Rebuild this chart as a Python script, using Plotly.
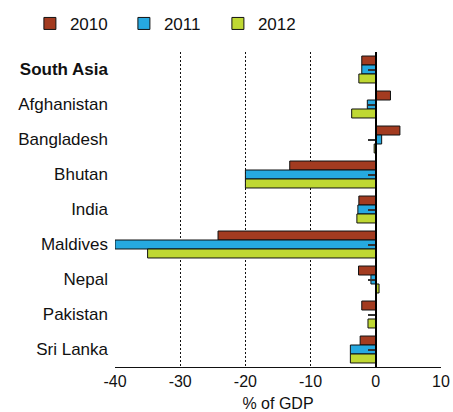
import plotly.graph_objects as go

countries = ["<b>South Asia</b>", "Afghanistan", "Bangladesh", "Bhutan", "India",
             "Maldives", "Nepal", "Pakistan", "Sri Lanka"]
years = ["2010", "2011", "2012"]
v2010 = [-2.15, 2.25, 3.7, -13.2, -2.6, -24.2, -2.65, -2.15, -2.4]
v2011 = [-2.15, -1.3, 0.9, -20.0, -2.75, -40.0, -0.75, 0.1, -3.9]
v2012 = [-2.6, -3.7, -0.25, -20.0, -2.9, -35.0, 0.5, -1.2, -3.9]
colors = ["#A33B20", "#26A9E0", "#BFD833"]
tick_vals = [-40, -30, -20, -10, 0, 10]

FONT = "Liberation Sans"
fig = go.Figure()
for name, vals, col in zip(years, [v2010, v2011, v2012], colors):
    fig.add_trace(go.Bar(
        x=vals, y=countries, orientation="h", name=name,
        marker=dict(color=col, line=dict(color="#111111", width=1)),
    ))

# invisible helper trace to give the zero-crossing axis its category ticks
fig.add_trace(go.Scatter(
    x=[0] * len(countries), y=countries, yaxis="y2", mode="markers",
    marker=dict(opacity=0), showlegend=False, hoverinfo="skip",
))

n = len(countries)
fig.update_layout(
    width=453, height=412,
    margin=dict(l=115, r=12, t=52, b=45, autoexpand=False),
    paper_bgcolor="white", plot_bgcolor="white",
    barmode="group", bargap=0.23, bargroupgap=0.0,
    font=dict(family=FONT, color="#111111", size=16),
    legend=dict(
        orientation="h", xref="container", yref="container",
        x=0.066, y=0.942, xanchor="left", yanchor="middle",
        font=dict(size=17, family=FONT), traceorder="normal",
        entrywidth=49, itemwidth=30,
    ),
    xaxis=dict(
        range=[-40, 10], tickvals=tick_vals, ticktext=[str(t) for t in tick_vals],
        showgrid=True, gridcolor="#111111", gridwidth=1, griddash="2px,2px",
        zeroline=False, showline=True, linecolor="#111111", linewidth=1,
        ticks="", tickfont=dict(size=16, family=FONT), automargin=False,
        title=dict(text="% of GDP", font=dict(size=16, family=FONT), standoff=14),
        domain=[0, 1],
    ),
    yaxis=dict(
        type="category", range=[n - 0.5, -0.5], showgrid=False, zeroline=False,
        showline=False, ticks="", tickfont=dict(size=17, family=FONT),
        ticklabelstandoff=6, automargin=False,
    ),
    yaxis2=dict(
        type="category", overlaying="y", anchor="free", position=0.8, side="left",
        range=[n - 0.5, -0.5], showgrid=False, zeroline=False,
        showline=True, linecolor="#000000", linewidth=2, automargin=False,
        ticks="outside", ticklen=7, tickwidth=1.5, tickcolor="#333333",
        showticklabels=False, layer="above traces",
    ),
)

fig.write_html("out.html", config={"displayModeBar": False},
               post_script="document.body.style.margin='0px';document.body.style.padding='0px';")
